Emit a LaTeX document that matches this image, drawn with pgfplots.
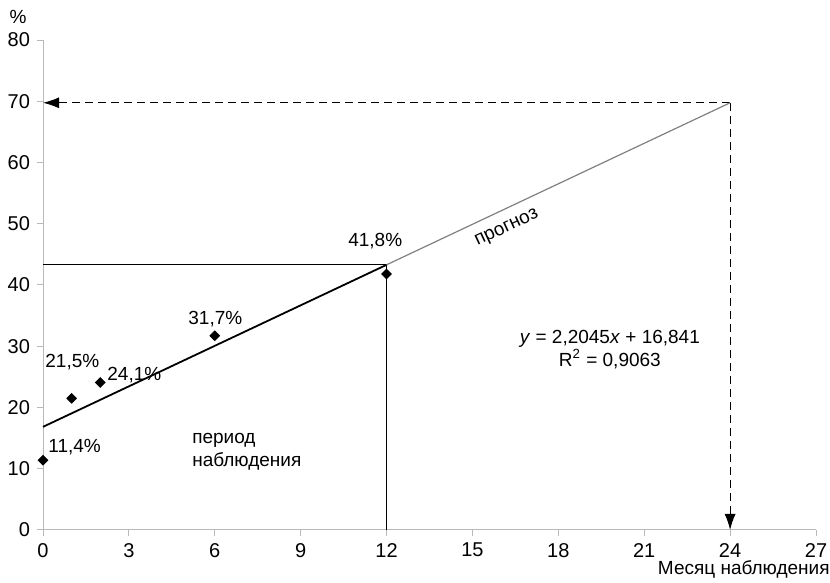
\documentclass[border=0pt]{standalone}
\usepackage{fontspec}
\setmainfont{Liberation Sans}
\usepackage{pgfplots}
\pgfplotsset{compat=1.18}
\usetikzlibrary{arrows.meta}
\begin{document}
\begin{tikzpicture}[font=\fontsize{9.5pt}{11.5pt}\selectfont]
\useasboundingbox (0,0) rectangle (415pt,291.5pt);
\begin{axis}[
  at={(21.5pt,26.5pt)}, anchor=south west,
  scale only axis, width=386.5pt, height=245pt,
  xmin=0, xmax=27, ymin=0, ymax=80,
  xtick={0,3,...,27}, ytick={0,10,...,80},
  axis x line*=bottom, axis y line*=left,
  axis line style={gray!55, line width=0.5pt},
  tick style={gray!55, line width=0.5pt},
  tick align=outside, major tick length=3pt,
  /pgf/number format/assume math mode=true,
  ticklabel style={font=\fontsize{10pt}{12pt}\selectfont},
  clip=false,
]
% reference lines
\addplot[black, line width=0.4pt] coordinates {(0,43.3) (12,43.3)};
\addplot[black, line width=0.4pt] coordinates {(12,0) (12,43.3)};
% dashed projection arrows
\addplot[black, line width=0.6pt, dash pattern=on 4pt off 2.5pt, -{Latex[length=8pt,width=5.5pt]}] coordinates {(24,69.75) (0,69.75)};
\addplot[black, line width=0.6pt, dash pattern=on 4pt off 2.5pt, -{Latex[length=8pt,width=5.5pt]}] coordinates {(24,69.75) (24,0)};
% trend line
\addplot[black, line width=0.9pt] coordinates {(0,16.841) (12,43.295)};
\addplot[gray, line width=0.6pt] coordinates {(12,43.295) (24,69.749)};
% data
\addplot[only marks, mark=square*, mark options={rotate=45}, mark size=1.7pt, black] coordinates {
  (0,11.4) (1,21.5) (2,24.1) (6,31.7) (12,41.8)};
% labels
\node[anchor=west, inner sep=0pt] at (axis cs:0.175,13.55) {11,4\%};
\node[anchor=west, inner sep=0pt] at (axis cs:0.07,27.4) {21,5\%};
\node[anchor=west, inner sep=0pt] at (axis cs:2.235,25.3) {24,1\%};
\node[anchor=west, inner sep=0pt] at (axis cs:5.065,34.45) {31,7\%};
\node[anchor=west, inner sep=0pt] at (axis cs:10.65,47.2) {41,8\%};
\node[rotate=25, inner sep=0pt] at (axis cs:16.21,49.2) {прогноз};
\node[anchor=west, align=left, inner sep=0pt] at (axis cs:5.2,12.8) {период\\наблюдения};
\node[align=center, inner sep=0pt] at (axis cs:19.8,29.5) {\textit{y} = 2,2045\textit{x} + 16,841\\R\textsuperscript{2} = 0,9063};
\node[inner sep=0pt] at (axis cs:-0.873,83.75) {\%};
\end{axis}
\node[anchor=east, inner sep=0pt] at (415pt,7pt) {Месяц наблюдения};
\end{tikzpicture}
\end{document}
